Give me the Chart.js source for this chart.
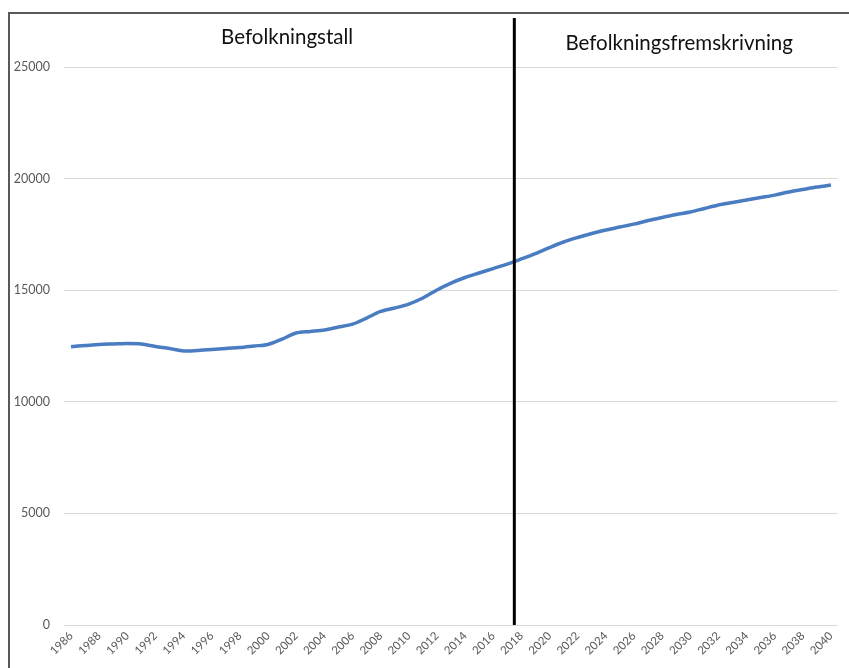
<!DOCTYPE html>
<html>
<head>
<meta charset="utf-8">
<script src="https://cdn.jsdelivr.net/npm/chart.js@4.4.0/dist/chart.umd.min.js"></script>
<style>
    html, body { margin: 0; padding: 0; background: #fff; }
    #wrap { position: relative; width: 849px; height: 668px; overflow: hidden; }
    #frame { position: absolute; left: 8px; top: 12px; width: 900px; height: 700px;
             border-left: 2px solid #595959; border-top: 2px solid #595959; pointer-events: none; }
</style>
</head>
<body>
<div id="wrap">
    <canvas id="popChart" width="849" height="668"></canvas>
    <div id="frame"></div>
</div>
<script>
// Years on the x axis (1986 - 2040)
const years = [];
for (let y = 1986; y <= 2040; y++) years.push(String(y));

// Population: recorded up to 2017, projection afterwards
const population = [
    12470, 12520, 12570, 12590, 12610, 12590, 12480, 12390, 12280, 12300,
    12340, 12390, 12430, 12500, 12570, 12810, 13080, 13150, 13220, 13350,
    13480, 13750, 14050, 14200, 14380, 14650, 15010, 15320, 15570, 15770,
    15970, 16170, 16400, 16640, 16910, 17160, 17360, 17540, 17700, 17830,
    17960, 18120, 18260, 18390, 18500, 18660, 18820, 18930, 19040, 19150,
    19260, 19400, 19510, 19620, 19710
];

const yTicks = [0, 5000, 10000, 15000, 20000, 25000];
const dividerYear = 2017.5;
const leftTitle = 'Befolkningstall';
const rightTitle = 'Befolkningsfremskrivning';

// Divider line and the two section titles
const sectionPlugin = {
    id: 'sections',
    afterDatasetsDraw(chart) {
        const ctx = chart.ctx;
        const area = chart.chartArea;
        const xs = chart.scales.x;
        const xDiv = xs.getPixelForValue(dividerYear - Number(years[0]));

        ctx.save();
        ctx.strokeStyle = '#000';
        ctx.lineWidth = 3;
        ctx.beginPath();
        ctx.moveTo(xDiv, 18);
        ctx.lineTo(xDiv, area.bottom);
        ctx.stroke();

        ctx.fillStyle = '#111';
        ctx.font = '20.5px Lato, "Open Sans", sans-serif';
        ctx.textAlign = 'center';
        ctx.textBaseline = 'middle';
        ctx.fillText(leftTitle, (area.left + xDiv) / 2 - 2, 37);
        ctx.fillText(rightTitle, (xDiv + area.right) / 2 + 3, 43);
        ctx.restore();
    }
};

const ctx = document.getElementById('popChart').getContext('2d');
new Chart(ctx, {
    type: 'line',
    data: {
        labels: years,
        datasets: [{
            data: population,
            borderColor: '#4a7cc1',
            borderWidth: 3.5,
            pointRadius: 0,
            tension: 0.3,
            fill: false
        }]
    },
    options: {
        responsive: false,
        animation: false,
        layout: { padding: { top: 67, right: 11, left: 0, bottom: 0 } },
        plugins: {
            legend: { display: false },
            tooltip: { enabled: false }
        },
        scales: {
            x: {
                offset: true,
                grid: { display: false, drawTicks: false },
                border: { display: false },
                ticks: {
                    autoSkip: false,
                    minRotation: 45,
                    maxRotation: 45,
                    color: '#595959',
                    font: { family: 'Lato, sans-serif', size: 11.5 },
                    padding: 4,
                    callback: function(value, index) {
                        return index % 2 === 0 ? years[index] : '';
                    }
                },
                afterFit: function(scale) { scale.height = 43; }
            },
            y: {
                min: 0,
                max: 25000,
                afterBuildTicks: function(scale) {
                    scale.ticks = yTicks.map(v => ({ value: v }));
                },
                grid: { color: '#d9d9d9', lineWidth: 1, drawTicks: false },
                border: { display: false },
                ticks: {
                    color: '#595959',
                    font: { family: 'Lato, sans-serif', size: 12.5 },
                    padding: 14,
                    callback: v => String(v)
                },
                afterFit: function(scale) { scale.width = 64; }
            }
        }
    },
    plugins: [sectionPlugin]
});
</script>
</body>
</html>
